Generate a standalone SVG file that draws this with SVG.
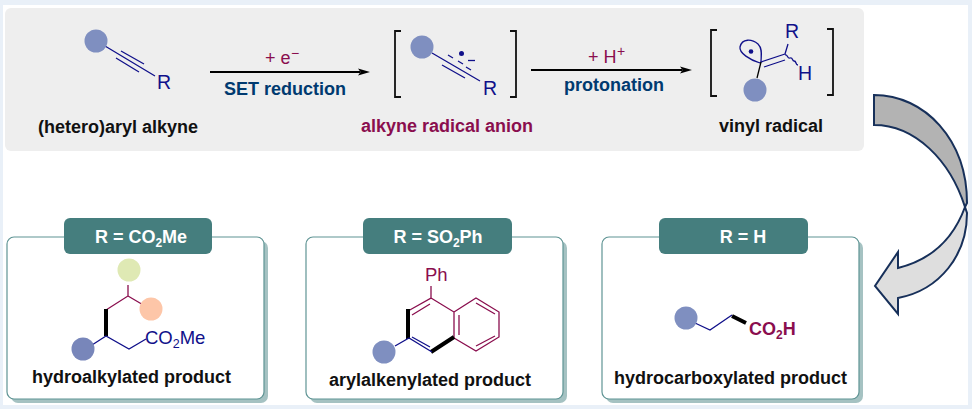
<svg xmlns="http://www.w3.org/2000/svg" width="972" height="409" viewBox="0 0 972 409">
<style>
text{font-family:"Liberation Sans",Arial,sans-serif}
.lb{font-size:18px;font-weight:700;fill:#111}
.cap{font-size:18px;font-weight:700;fill:#003a70}
.mag{fill:#8a0e4e}
.at{font-size:19.500px;fill:#10108a}
.tab{fill:#457e7e}
.tt{font-size:18px;font-weight:700;fill:#fff;text-anchor:middle}
.card{fill:#fff;stroke:#5f9494;stroke-width:1.2}
.shadow{fill:#a5c2c2}
.b{fill:none;stroke:#10108a;stroke-width:1.3}
.m{fill:none;stroke:#8a0e4e;stroke-width:1.3}
.k{fill:none;stroke:#000;stroke-width:1.3}
.w{fill:none;stroke:#000;stroke-width:4}
.br{fill:none;stroke:#111;stroke-width:1.8}
.ar{stroke:#000;stroke-width:2;fill:none}
.ah{fill:#000}
.dot{fill:#7f8fc0}
.big{stroke:#17305a;stroke-width:2;stroke-linejoin:miter}
</style>
<rect width="972" height="409" fill="#e9f0f8"/>
<rect x="3" y="5" width="965" height="400" fill="#fff"/>
<rect id="top-panel" x="5" y="8" width="859" height="143" rx="6" fill="#eeeeee"/>

<g id="connectors">
<path class="ar" d="M210 72H360"/><path class="ah" d="M370 72l-12-3.500 2.500 3.500-2.500 3.500z"/>
<path class="ar" d="M531 70H682"/><path class="ah" d="M692 70l-12-3.500 2.500 3.500-2.500 3.500z"/>
<path id="curve-lower" class="big" fill="#dedede" d="M965 207C953 240 930 260 898 268V252L875 286L898 314V298C940 290 967 255 967 213Z"/>
<path id="curve-upper" class="big" fill="#b3b3b3" d="M874 95C925 95 967 140 967 203L965 207C950 160 915 125 874 125Z"/>
</g>

<g id="alkyne">
<path class="b" d="M105 46L155 76M121 51L144 64M116 58L139 72"/>
<circle class="dot" cx="96" cy="41" r="11.500"/>
<text class="at" x="157" y="89">R</text>
<text class="lb" x="38" y="133">(hetero)aryl alkyne</text>
</g>
<g id="step1-label">
<text x="265" y="64" font-size="18" class="mag">+ e</text><text x="291" y="58" font-size="14" class="mag">−</text>
<text class="cap" x="224" y="95">SET reduction</text>
</g>
<g id="radical-anion">
<path class="br" d="M401 31H395V97H401M510 31H516V97H510"/>
<path class="b" d="M432 53L480 81M442 65L465 78M448 55L453 58M458 61L463 64M466 67L471 70"/>
<circle cx="461.500" cy="53.500" r="2.500" fill="#10108a"/>
<path class="b" d="M468 60.500H475"/>
<circle class="dot" cx="422" cy="47" r="11.500"/>
<text class="at" x="483" y="95">R</text>
<text class="lb" x="361" y="132" style="fill:#8a0e4e">alkyne radical anion</text>
</g>
<g id="step2-label">
<text x="588" y="63" font-size="18" class="mag">+ H</text><text x="617" y="56" font-size="14" class="mag">+</text>
<text class="cap" x="564" y="91">protonation</text>
</g>
<g id="vinyl-radical">
<path class="br" d="M717 30H711V96H717M827 29H833V95H827"/>
<path class="b" d="M760 63C750 60 739 53 740 47C742 38 752 39 758 44C763 49 761 56 761 62Z" stroke-width="1.300"/>
<circle cx="751" cy="51.500" r="2.300" fill="#10108a"/>
<path class="b" d="M761 62L785 54M764 67L785 60M785 54L788 44M785 55C788 54 787 59 790 58C793 57 792 61 794 61C797 61 795 65 798 65"/>
<path class="k" d="M761 62L757 78"/>
<circle class="dot" cx="755" cy="90" r="11.500"/>
<text class="at" x="785" y="38">R</text>
<text class="at" x="798" y="80">H</text>
<text class="lb" x="719" y="132">vinyl radical</text>
</g>

<g id="card-hydroalkylated">
<rect class="shadow" x="11" y="241" width="257" height="162" rx="7"/>
<rect class="card" x="7" y="237" width="257" height="162" rx="7"/>
<rect class="tab" x="64" y="218" width="148" height="36" rx="6"/>
<text class="tt" x="141" y="243">R = CO<tspan font-size="12" dy="4">2</tspan><tspan dy="-4">Me</tspan></text>
<path class="m" d="M128 285V296L106 310M128 296L145 306"/>
<path class="w" d="M106 309V336"/>
<path class="b" d="M92 345L106 336L129 349L146 339"/>
<circle cx="129" cy="270" r="11.500" fill="#dfe9b4"/>
<circle cx="151" cy="309" r="11.500" fill="#fdc6a8"/>
<circle cx="83" cy="349" r="11.500" fill="#7886ba"/>
<text x="145" y="344" font-size="18.500" fill="#10108a">CO<tspan font-size="12.500" dy="4">2</tspan><tspan dy="-4">Me</tspan></text>
<text class="lb" x="32" y="383">hydroalkylated product</text>
</g>

<g id="card-arylalkenylated">
<rect class="shadow" x="310" y="241" width="257" height="162" rx="7"/>
<rect class="card" x="306" y="237" width="257" height="162" rx="7"/>
<rect class="tab" x="363" y="218" width="149" height="36" rx="6"/>
<text class="tt" x="438" y="243">R = SO<tspan font-size="12" dy="4">2</tspan><tspan dy="-4">Ph</tspan></text>
<text x="425" y="281" font-size="18.500" class="mag">Ph</text>
<path class="m" d="M431 286V298L408 311M431 298L454 312V338M430 304L412 315M454 312L476 298L499 312V337L476 351L454 338M476 303L495 314M495 336L476 346M459 315V335"/>
<path class="w" d="M408 309V339M431 352L454 337"/>
<path class="b" d="M395 346L409 338L432 352M412 337L430 347"/>
<circle class="dot" cx="384" cy="352" r="11.500"/>
<text class="lb" x="329" y="386">arylalkenylated product</text>
</g>

<g id="card-hydrocarboxylated">
<rect class="shadow" x="606" y="241" width="257" height="162" rx="7"/>
<rect class="card" x="602" y="237" width="257" height="162" rx="7"/>
<rect class="tab" x="659" y="218" width="149" height="36" rx="6"/>
<text class="tt" x="743" y="243">R = H</text>
<path class="b" d="M695 323L710 330L732 315"/>
<path class="w" d="M732 316L746 323"/>
<circle class="dot" cx="686" cy="318" r="11.500"/>
<text x="749" y="335" font-size="18" font-weight="700" class="mag">CO<tspan font-size="12" dy="4">2</tspan><tspan dy="-4">H</tspan></text>
<text class="lb" x="614" y="384">hydrocarboxylated product</text>
</g>
</svg>
